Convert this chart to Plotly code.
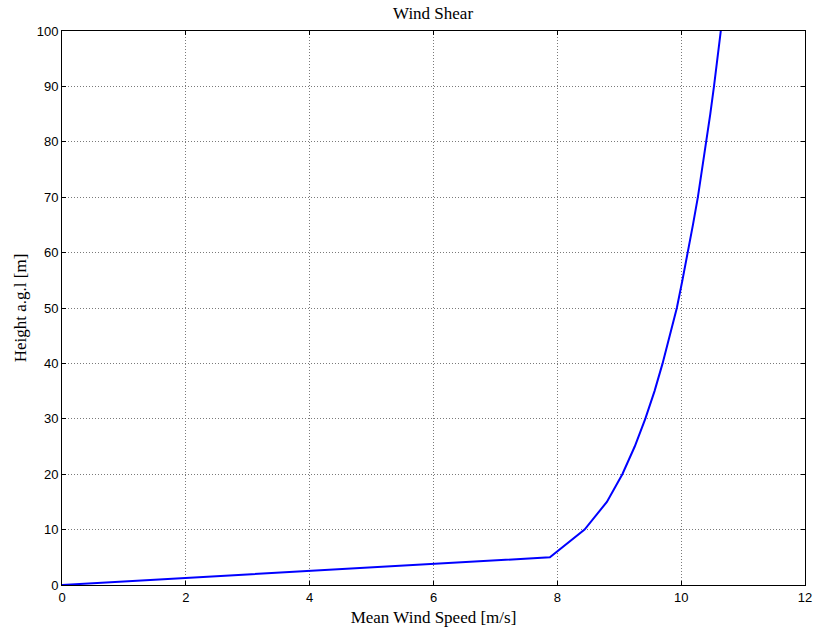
import plotly.graph_objects as go

heights = [0, 5, 10, 15, 20, 25, 30, 35, 40, 45, 50, 55, 60, 65, 70, 75, 80, 85, 90, 95, 100]
speeds = [0, 7.88, 8.44, 8.80, 9.05, 9.25, 9.42, 9.57, 9.70, 9.82, 9.93, 10.02, 10.11,
          10.19, 10.27, 10.34, 10.41, 10.47, 10.53, 10.59, 10.64]
x_ticks = [0, 2, 4, 6, 8, 10, 12]
y_ticks = [0, 10, 20, 30, 40, 50, 60, 70, 80, 90, 100]

serif = "Liberation Serif, Times New Roman, serif"
sans = "Liberation Sans, Arial, sans-serif"

fig = go.Figure()
fig.add_trace(go.Scatter(x=speeds, y=heights, mode="lines",
                         line=dict(color="#0000ff", width=2), showlegend=False))

axis_common = dict(
    showline=True, linecolor="black", linewidth=1, mirror="ticks",
    ticks="inside", ticklen=4, tickcolor="black",
    showgrid=True, gridcolor="#7a7a7a", griddash="1px,2px", gridwidth=1,
    zeroline=False,
    tickfont=dict(family=sans, size=13, color="black"),
)

fig.update_layout(
    width=814, height=632,
    margin=dict(l=62, r=9, t=31, b=47, autoexpand=False),
    paper_bgcolor="white", plot_bgcolor="white",
    title=dict(text="Wind Shear", x=0.532, xanchor="center", y=0.979, yanchor="middle",
               font=dict(family=serif, size=17, color="black")),
    xaxis=dict(range=[0, 12], tickvals=x_ticks,
               title=dict(text="Mean Wind Speed [m/s]", standoff=7,
                          font=dict(family=serif, size=17, color="black")),
               **axis_common),
    yaxis=dict(range=[0, 100], tickvals=y_ticks,
               title=dict(text="Height a.g.l [m]", standoff=5,
                          font=dict(family=serif, size=17, color="black")),
               **axis_common),
)

fig.write_html("out.html", post_script="document.body.style.margin='0';",
               config={"displayModeBar": False})
